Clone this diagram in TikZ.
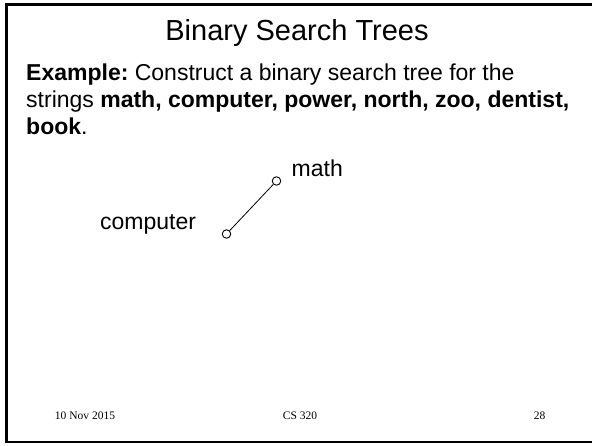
\documentclass[tikz,border=0pt]{standalone}
\usepackage{fontspec}
\setmainfont{Liberation Sans}
\newfontfamily\footfont{Liberation Serif}
\frenchspacing
\begin{document}
\begin{tikzpicture}[x=1pt,y=-1pt,
  vertex/.style={circle,draw,line width=0.9pt,fill=white,minimum size=8.5pt,inner sep=0pt},
  edgeline/.style={line width=0.8pt},
  body/.style={anchor=base west,inner sep=0pt,font=\fontsize{23}{27}\selectfont\frenchspacing},
  foot/.style={anchor=base,inner sep=0pt,font=\footfont\fontsize{11.5}{13}\selectfont}]
\useasboundingbox (0,0) rectangle (592,445);
\fill[white] (0,0) rectangle (592,445);
% slide frame
\draw[line width=3pt] (6.5,443) -- (6.5,4) -- (592,4);
\draw[line width=2.2pt] (6.5,442.3) -- (592,442.3);
% title
\node[anchor=base,inner sep=0pt,font=\fontsize{29}{34}\selectfont] (title) at (297,40) {Binary Search Trees};
% body
\node[body] (l1) at (26,80) {\textbf{Example:} Construct a binary search tree for the};
\node[body] (l2) at (26,107) {strings \textbf{math, computer, power, north, zoo, dentist,}};
\node[body] (l3) at (26,134) {\textbf{book}.};
% tree
\node[vertex] (math) at (276.5,181) {};
\node[vertex] (comp) at (226.5,234) {};
\draw[edgeline] (math) -- (comp);
\node[body] (mathlbl) at (291.5,176) {math};
\node[body] (complbl) at (100,229) {computer};
% footer
\node[foot] (date) at (85,419) {10 Nov 2015};
\node[foot] (course) at (300,419) {CS 320};
\node[foot] (page) at (539.5,419) {28};
\end{tikzpicture}
\end{document}
